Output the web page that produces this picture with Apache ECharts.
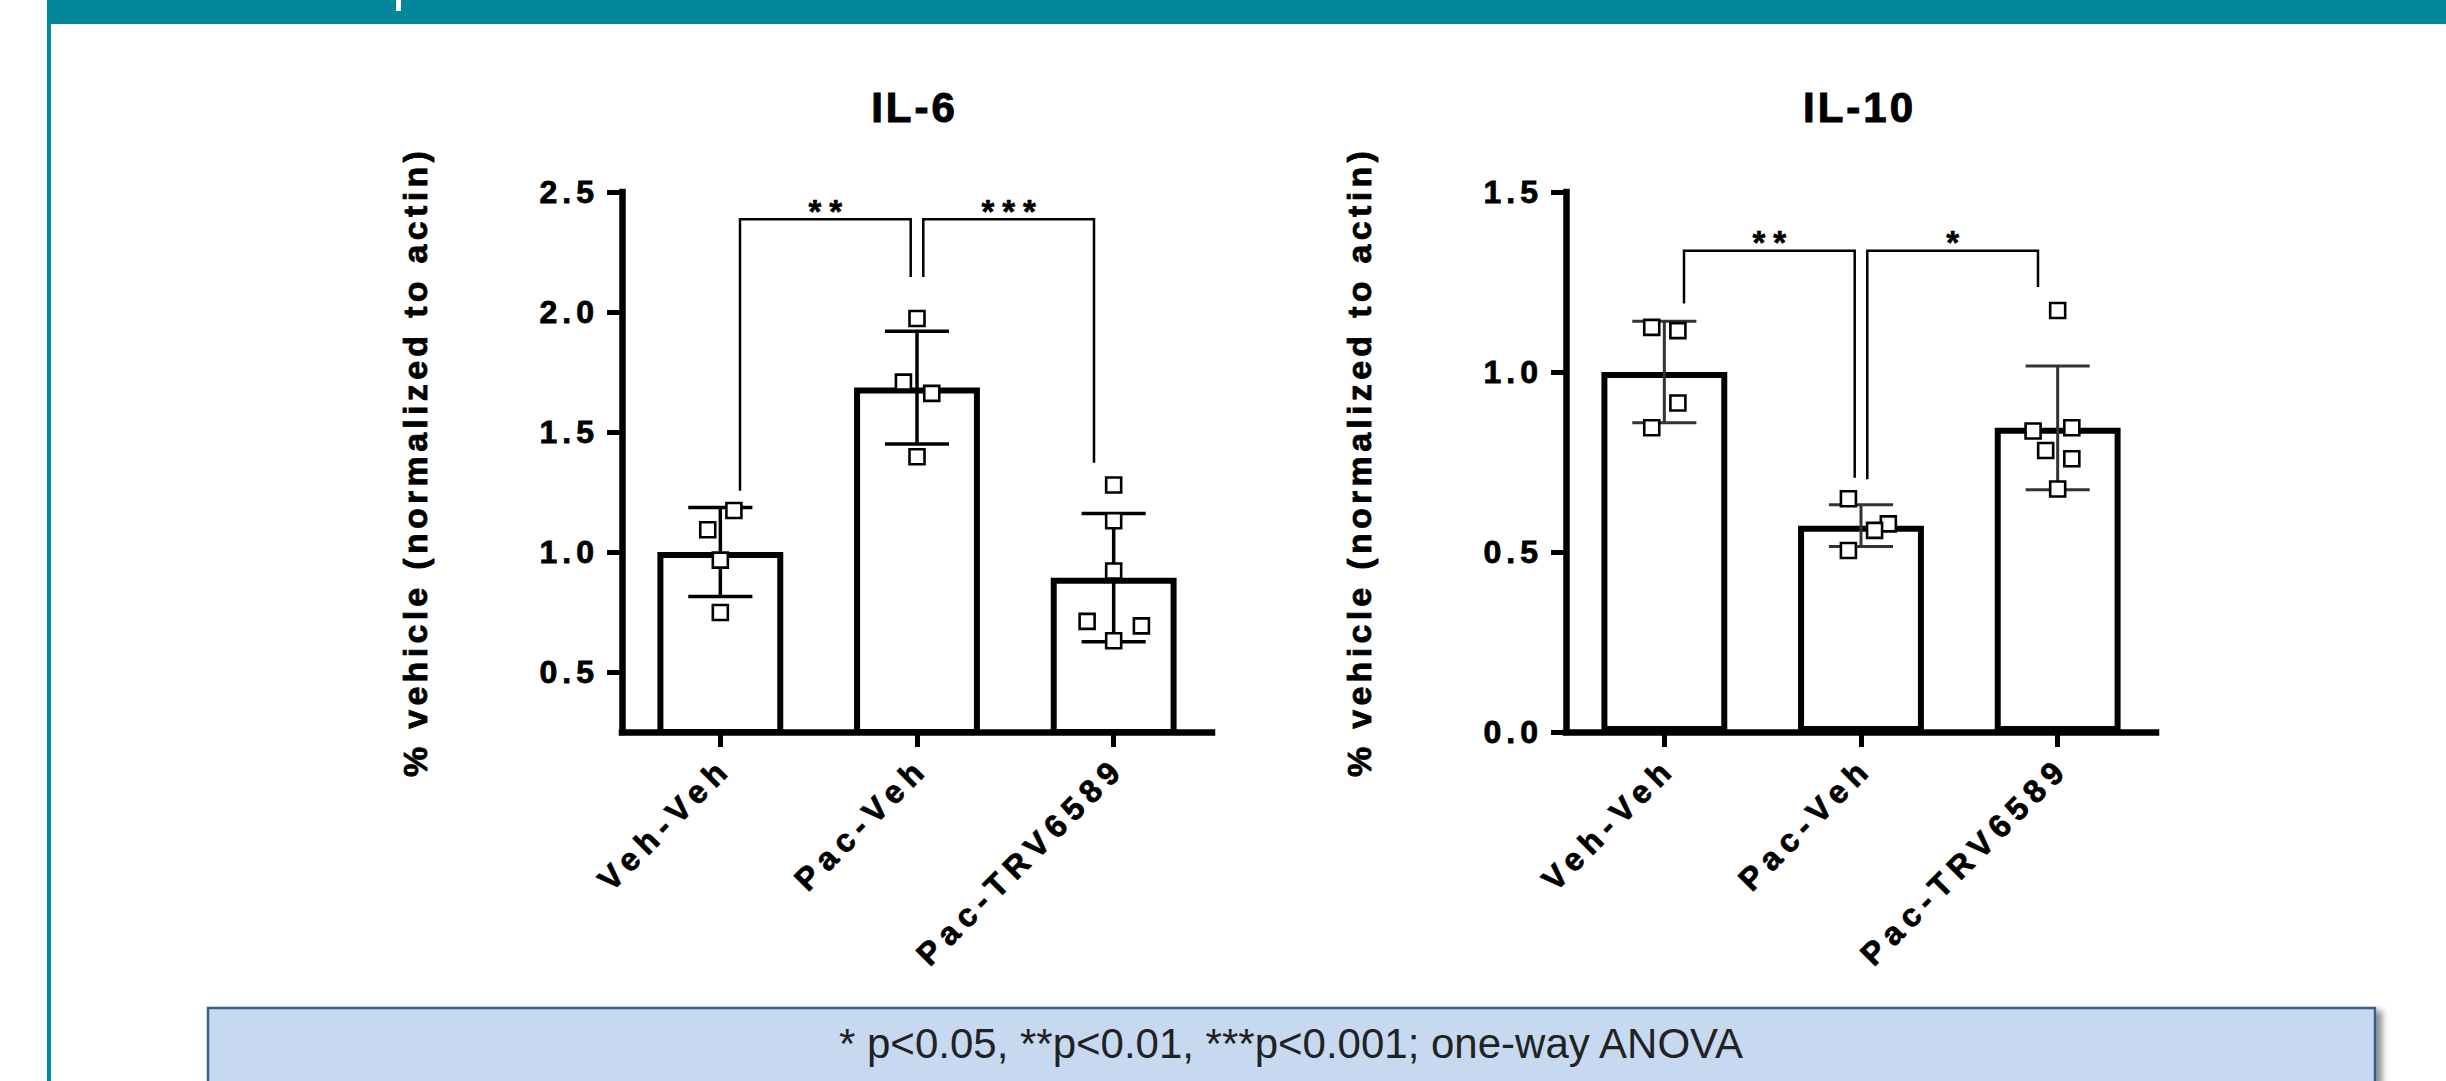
<!DOCTYPE html>
<html>
<head>
<meta charset="utf-8">
<script src="https://cdn.jsdelivr.net/npm/echarts@6/dist/echarts.min.js"></script>
<style>
html,body{margin:0;padding:0;background:#ffffff;}
#chart{width:2446px;height:1081px;}
</style>
</head>
<body>
<div id="chart"></div>
<script>
// ---------------- data ----------------
const categories = ['Veh-Veh', 'Pac-Veh', 'Pac-TRV6589'];
const il6Title = 'IL-6';
const il10Title = 'IL-10';
const yAxisName = '% vehicle (normalized to actin)';
const il6Ticks = [0.5, 1.0, 1.5, 2.0, 2.5];
const il10Ticks = [0.0, 0.5, 1.0, 1.5];
const il6Mean = [1.00, 1.685, 0.893];
const il6Sd = [0.185, 0.235, 0.267];
const il10Mean = [1.00, 0.573, 0.845];
const il10Sd = [0.141, 0.058, 0.172];
const il6Points = [
  [1.173, 1.093, 0.966, 0.748],
  [1.973, 1.708, 1.661, 1.397],
  [1.279, 1.130, 0.921, 0.711, 0.692, 0.630]
];
const il10Points = [
  [1.124, 1.115, 0.914, 0.845],
  [0.648, 0.578, 0.560, 0.504],
  [1.171, 0.836, 0.845, 0.782, 0.759, 0.675]
];
// horizontal spread of overlapping points (fraction of a category band)
const il6Jitter = [
  [0.069, -0.064, 0, 0],
  [0, -0.069, 0.075, 0],
  [0, 0, 0, -0.135, 0.141, 0]
];
const il10Jitter = [
  [-0.064, 0.069, 0.069, -0.064],
  [-0.064, 0.139, 0.069, -0.064],
  [0, -0.125, 0.072, -0.061, 0.072, 0]
];
// significance brackets: [fromGroup, toGroup, top value, leg end at from, leg end at to]
const il6Brackets = [[0, 1, 2.386, 1.255, 2.146], [1, 2, 2.386, 2.146, 1.372]];
const il6Stars = ['**', '***'];
const il10Brackets = [[0, 1, 1.337, 1.190, 0.706], [1, 2, 1.337, 0.702, 1.236]];
const il10Stars = ['**', '*'];
const footnote = '* p<0.05, **p<0.01, ***p<0.001; one-way ANOVA';

// ---------------- style ----------------
const FONT = "'Liberation Sans', Arial, sans-serif";
const TEAL = '#03879b';
const SP = {yname: 4.3, tick: 5, cat: 7, title: 3, star: 8};

const dom = document.getElementById('chart');
const chart = echarts.init(dom, null, {renderer: 'svg', width: 2446, height: 1081});

function catAxis(g) {
  return {
    type: 'category', gridIndex: g, data: categories, boundaryGap: true,
    axisLine: {show: true, onZero: false, lineStyle: {color: '#000', width: 6.5, cap: 'square'}},
    axisTick: {show: true, alignWithLabel: true, length: 15, lineStyle: {color: '#000', width: 5}},
    axisLabel: {interval: 0, rotate: 45, margin: 36, padding: [0, -8, 0, 0],
      color: '#000', fontFamily: FONT, fontWeight: 'bold', fontSize: 32,
      textBorderColor: '#000', textBorderWidth: 0.8},
    splitLine: {show: false}
  };
}
function hiddenX(g) {
  return {type: 'value', gridIndex: g, min: 0, max: 3, show: false};
}
function yAx(g, min, max, ticks) {
  return {
    type: 'value', gridIndex: g, min: min, max: max,
    name: yAxisName, nameLocation: 'middle', nameGap: 190, nameRotate: 90,
    nameTextStyle: {fontFamily: FONT, fontWeight: 'bold', fontSize: 34, color: '#000',
      textBorderColor: '#000', textBorderWidth: 0.8},
    axisLine: {show: true, onZero: false, lineStyle: {color: '#000', width: 6.5, cap: 'square'}},
    axisTick: {show: true, length: 15, customValues: ticks, lineStyle: {color: '#000', width: 5}},
    axisLabel: {show: true, customValues: ticks, margin: 23, formatter: v => Number(v).toFixed(1),
      color: '#000', fontFamily: FONT, fontWeight: 'bold', fontSize: 32,
      textBorderColor: '#000', textBorderWidth: 0.8},
    splitLine: {show: false}
  };
}

function barSeries(xi, yi, means) {
  return {type: 'bar', xAxisIndex: xi, yAxisIndex: yi, data: means, barWidth: '64%',
    itemStyle: {color: '#ffffff', borderColor: '#000', borderWidth: 6}, z: 2, silent: true, animation: false};
}
function errSeries(xi, yi, means, sds, color, width) {
  return {
    type: 'custom', xAxisIndex: xi, yAxisIndex: yi, z: 3, silent: true, animation: false,
    data: means.map((m, i) => [i, m, sds[i]]),
    renderItem: function (p, api) {
      const i = api.value(0), m = api.value(1), s = api.value(2);
      const top = api.coord([i, m + s]);
      const bot = api.coord([i, m - s]);
      const half = api.size([1, 0])[0] * 0.163;
      const st = {stroke: color, lineWidth: width, fill: null};
      return {type: 'group', children: [
        {type: 'line', shape: {x1: top[0], y1: top[1], x2: bot[0], y2: bot[1]}, style: st},
        {type: 'line', shape: {x1: top[0] - half, y1: top[1], x2: top[0] + half, y2: top[1]}, style: st},
        {type: 'line', shape: {x1: bot[0] - half, y1: bot[1], x2: bot[0] + half, y2: bot[1]}, style: st}
      ]};
    }
  };
}
function pointSeries(xi, yi, pts, jit) {
  const data = [];
  pts.forEach((grp, i) => grp.forEach((v, k) => data.push([i + 0.5 + jit[i][k], v])));
  return {type: 'scatter', xAxisIndex: xi, yAxisIndex: yi, data: data, symbol: 'rect', symbolSize: 15,
    itemStyle: {color: '#ffffff', borderColor: '#000', borderWidth: 2.6, opacity: 1}, z: 5, silent: true, animation: false};
}
function bracketSeries(xi, yi, brackets, stars) {
  return {
    type: 'custom', xAxisIndex: xi, yAxisIndex: yi, z: 4, silent: true, animation: false,
    data: brackets,
    renderItem: function (p, api) {
      const a = api.value(0), b = api.value(1), top = api.value(2), la = api.value(3), lb = api.value(4);
      const off = idx => (idx === 1 ? 0.032 : 0.1);
      const xa = a + 0.5 + off(a), xb = b + 0.5 - off(b);
      const p1 = api.coord([xa, la]), p2 = api.coord([xa, top]);
      const p3 = api.coord([xb, top]), p4 = api.coord([xb, lb]);
      return {type: 'group', children: [
        {type: 'polyline', shape: {points: [p1, p2, p3, p4]}, style: {stroke: '#000', lineWidth: 2.5, fill: null}},
        {type: 'text', x: (p2[0] + p3[0]) / 2 + SP.star / 2, y: p2[1] - 8,
          style: {text: stars[p.dataIndex], fill: '#000', font: 'bold 33px ' + FONT, align: 'center', verticalAlign: 'middle',
            stroke: '#000', lineWidth: 0.6}}
      ]};
    }
  };
}

const option = {
  animation: false,
  backgroundColor: '#ffffff',
  grid: [
    {left: 622, top: 192, width: 590, height: 540},
    {left: 1566, top: 192, width: 590, height: 540}
  ],
  xAxis: [catAxis(0), catAxis(1), hiddenX(0), hiddenX(1)],
  yAxis: [yAx(0, 0.25, 2.5, il6Ticks), yAx(1, 0, 1.5, il10Ticks)],
  series: [
    barSeries(0, 0, il6Mean),
    errSeries(0, 0, il6Mean, il6Sd, '#000', 3.5),
    bracketSeries(2, 0, il6Brackets, il6Stars),
    pointSeries(2, 0, il6Points, il6Jitter),
    barSeries(1, 1, il10Mean),
    errSeries(1, 1, il10Mean, il10Sd, '#333', 3),
    bracketSeries(3, 1, il10Brackets, il10Stars),
    pointSeries(3, 1, il10Points, il10Jitter)
  ],
  graphic: [
    {type: 'rect', shape: {x: 47, y: 0, width: 2399, height: 24}, style: {fill: TEAL}, silent: true},
    {type: 'rect', shape: {x: 47, y: 0, width: 4, height: 1081}, style: {fill: TEAL}, silent: true},
    {type: 'rect', shape: {x: 396, y: 0, width: 5, height: 11}, style: {fill: '#ffffff'}, silent: true},
    {type: 'text', x: 913 + SP.title / 2, y: 107, silent: true,
      style: {text: il6Title, fill: '#000', font: 'bold 42px ' + FONT, align: 'center', verticalAlign: 'middle',
        stroke: '#000', lineWidth: 1}},
    {type: 'text', x: 1858 + SP.title / 2, y: 107, silent: true,
      style: {text: il10Title, fill: '#000', font: 'bold 42px ' + FONT, align: 'center', verticalAlign: 'middle',
        stroke: '#000', lineWidth: 1}},
    {type: 'rect', shape: {x: 208, y: 1008, width: 2167, height: 76}, silent: true,
      style: {fill: '#c6d9f1', stroke: '#3a5f8b', lineWidth: 2.5,
        shadowBlur: 6, shadowOffsetX: 6, shadowOffsetY: 4, shadowColor: 'rgba(0,0,0,0.45)'}},
    {type: 'text', x: 1291, y: 1043, silent: true,
      style: {text: footnote, fill: '#222', font: '42px ' + FONT, align: 'center', verticalAlign: 'middle'}}
  ]
};

chart.setOption(option);

function applySpacing() {
  dom.querySelectorAll('text').forEach(t => {
    const s = t.textContent;
    let ls = null;
    if (s === yAxisName) ls = SP.yname;
    else if (/^\d\.\d$/.test(s)) ls = SP.tick;
    else if (categories.indexOf(s) >= 0) ls = SP.cat;
    else if (s === il6Title || s === il10Title) ls = SP.title;
    else if (/^\*+$/.test(s)) ls = SP.star;
    if (ls !== null) t.style.letterSpacing = ls + 'px';
  });
}
applySpacing();
chart.on('finished', applySpacing);
setTimeout(applySpacing, 50);
</script>
</body>
</html>
